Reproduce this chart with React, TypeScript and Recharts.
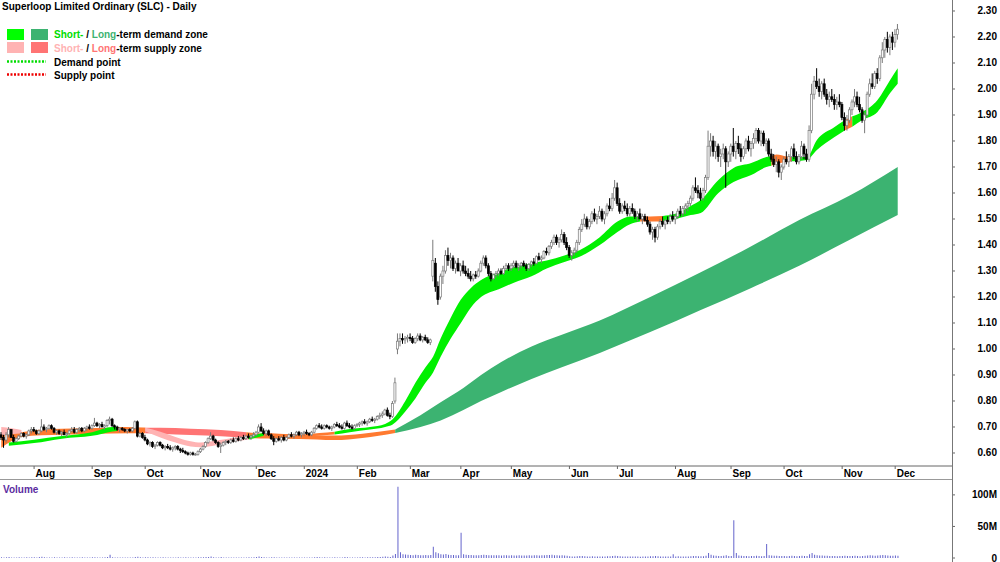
import React from 'react';
import { ComposedChart, BarChart, Bar, Area, XAxis, YAxis } from 'recharts';

type OHLC = [number, number, number, number];
type ZonePt = [number, number, number];

// ---- Daily candles [open, high, low, close], one array per month ----
const jul23: OHLC[] = [
  [.67,.68,.65,.66],[.66,.67,.62,.65],[.65,.68,.64,.67],[.67,.70,.66,.69],[.69,.69,.66,.66],
  [.66,.67,.64,.645],[.645,.66,.64,.655],[.655,.67,.65,.665],[.665,.68,.66,.675],[.675,.68,.66,.665],
  [.665,.675,.655,.67],[.67,.69,.665,.685],[.685,.70,.675,.69],
];
const aug23: OHLC[] = [
  [.69,.70,.68,.685],[.685,.69,.67,.675],[.675,.69,.67,.685],[.685,.73,.68,.70],[.70,.71,.685,.69],
  [.69,.70,.68,.695],[.695,.71,.69,.705],[.705,.71,.69,.695],[.695,.70,.675,.68],[.68,.69,.67,.685],
  [.685,.69,.67,.675],[.675,.685,.665,.68],[.68,.69,.67,.67],[.67,.68,.66,.675],[.675,.69,.67,.685],
  [.685,.70,.68,.69],[.69,.70,.675,.68],[.68,.695,.675,.69],[.69,.70,.68,.695],[.695,.70,.68,.685],
  [.685,.70,.68,.695],[.695,.705,.685,.70],[.70,.71,.69,.695],
];
const sep23: OHLC[] = [
  [.695,.71,.69,.705],[.705,.735,.70,.715],[.715,.72,.70,.705],[.705,.715,.695,.71],[.71,.72,.70,.70],
  [.70,.71,.69,.705],[.705,.73,.70,.725],[.725,.74,.71,.73],[.73,.735,.70,.705],[.705,.71,.69,.70],
  [.70,.705,.685,.69],[.69,.70,.68,.695],[.695,.70,.685,.69],[.69,.695,.68,.685],[.685,.69,.675,.69],
  [.69,.695,.68,.685],[.685,.70,.68,.695],[.695,.725,.69,.72],[.72,.725,.66,.665],[.665,.68,.66,.675],
  [.675,.68,.655,.66],
];
const oct23: OHLC[] = [
  [.66,.67,.645,.65],[.65,.655,.63,.635],[.635,.645,.625,.64],[.64,.645,.62,.625],[.625,.635,.615,.63],
  [.63,.645,.625,.64],[.64,.645,.625,.63],[.63,.635,.615,.62],[.62,.63,.61,.625],[.625,.635,.615,.62],
  [.62,.63,.61,.615],[.615,.625,.605,.62],[.62,.63,.61,.625],[.625,.63,.61,.615],[.615,.62,.60,.61],
  [.61,.62,.60,.605],[.605,.61,.595,.60],[.60,.605,.59,.595],[.595,.605,.59,.60],[.60,.605,.59,.595],
  [.595,.60,.59,.595],[.595,.61,.59,.605],
];
const nov23: OHLC[] = [
  [.605,.62,.60,.615],[.615,.63,.61,.625],[.625,.645,.62,.64],[.64,.66,.635,.655],[.655,.68,.65,.665],
  [.665,.67,.645,.65],[.65,.655,.635,.64],[.64,.645,.62,.625],[.625,.64,.60,.63],[.63,.645,.625,.64],
  [.64,.65,.63,.645],[.645,.65,.635,.64],[.64,.655,.635,.65],[.65,.66,.64,.645],[.645,.66,.64,.655],
  [.655,.665,.645,.65],[.65,.665,.645,.66],[.66,.67,.65,.655],[.655,.67,.65,.665],[.665,.675,.655,.66],
  [.66,.67,.65,.665],[.665,.68,.66,.67],
];
const dec23: OHLC[] = [
  [.67,.685,.665,.68],[.68,.71,.675,.70],[.70,.715,.68,.685],[.685,.695,.67,.675],[.675,.69,.665,.685],
  [.685,.69,.665,.67],[.67,.675,.65,.655],[.655,.665,.63,.645],[.645,.66,.64,.655],[.655,.665,.645,.65],
  [.65,.665,.64,.66],[.66,.67,.645,.65],[.65,.665,.645,.66],[.66,.675,.655,.67],[.67,.68,.66,.665],
  [.665,.675,.655,.67],[.67,.685,.665,.68],[.68,.685,.665,.67],[.67,.68,.66,.675],
];
const jan24: OHLC[] = [
  [.675,.685,.665,.68],[.68,.69,.67,.675],[.675,.68,.665,.67],[.67,.685,.665,.68],[.68,.70,.675,.695],
  [.695,.71,.69,.705],[.705,.715,.695,.70],[.70,.71,.69,.695],[.695,.71,.69,.705],[.705,.71,.695,.70],
  [.70,.705,.69,.695],[.695,.705,.685,.70],[.70,.715,.695,.71],[.71,.72,.70,.705],[.705,.715,.695,.70],
  [.70,.71,.69,.695],[.695,.72,.69,.715],[.715,.725,.70,.705],[.705,.715,.695,.70],[.70,.71,.69,.695],
  [.695,.71,.69,.705],
];
const feb24: OHLC[] = [
  [.705,.715,.70,.71],[.71,.72,.70,.715],[.715,.725,.705,.72],[.72,.73,.71,.715],[.715,.725,.705,.72],
  [.72,.735,.715,.73],[.73,.74,.72,.725],[.725,.735,.715,.73],[.73,.745,.725,.74],[.74,.755,.73,.745],
  [.745,.76,.735,.75],[.75,.77,.745,.765],[.765,.775,.74,.745],[.745,.755,.73,.74],[.74,.80,.735,.79],
  [.80,.89,.79,.87],[1.00,1.06,.98,1.03],[1.03,1.06,1.01,1.04],[1.04,1.06,1.02,1.035],[1.035,1.05,1.02,1.04],
  [1.04,1.055,1.025,1.045],
];
const mar24: OHLC[] = [
  [1.045,1.06,1.03,1.04],[1.04,1.05,1.02,1.025],[1.025,1.045,1.02,1.04],[1.04,1.06,1.03,1.05],[1.05,1.06,1.03,1.035],
  [1.035,1.05,1.025,1.045],[1.045,1.055,1.03,1.035],[1.035,1.045,1.02,1.025],[1.025,1.04,1.015,1.035],[1.28,1.42,1.26,1.34],
  [1.33,1.35,1.22,1.24],[1.24,1.26,1.17,1.19],[1.20,1.29,1.19,1.28],[1.28,1.32,1.25,1.30],[1.30,1.38,1.29,1.36],
  [1.36,1.39,1.32,1.34],[1.34,1.37,1.31,1.35],[1.35,1.36,1.30,1.31],[1.31,1.34,1.29,1.33],[1.33,1.35,1.30,1.30],
];
const apr24: OHLC[] = [
  [1.30,1.33,1.28,1.32],[1.32,1.34,1.29,1.30],[1.30,1.32,1.28,1.29],[1.29,1.31,1.27,1.28],[1.28,1.30,1.26,1.27],
  [1.27,1.29,1.26,1.285],[1.285,1.30,1.27,1.28],[1.28,1.31,1.275,1.30],[1.30,1.34,1.295,1.33],[1.33,1.36,1.32,1.35],
  [1.35,1.36,1.31,1.32],[1.32,1.33,1.28,1.29],[1.29,1.30,1.26,1.27],[1.27,1.29,1.265,1.285],[1.285,1.30,1.275,1.29],
  [1.29,1.31,1.28,1.30],[1.30,1.31,1.285,1.29],[1.29,1.32,1.285,1.31],[1.31,1.33,1.30,1.32],[1.32,1.33,1.30,1.31],
];
const may24: OHLC[] = [
  [1.31,1.33,1.30,1.32],[1.32,1.34,1.31,1.33],[1.33,1.34,1.31,1.315],[1.315,1.33,1.30,1.32],[1.32,1.335,1.31,1.33],
  [1.33,1.34,1.315,1.32],[1.32,1.33,1.30,1.31],[1.31,1.33,1.30,1.325],[1.325,1.34,1.315,1.335],[1.335,1.35,1.32,1.33],
  [1.33,1.36,1.325,1.355],[1.355,1.37,1.34,1.345],[1.345,1.36,1.33,1.35],[1.35,1.38,1.345,1.375],[1.375,1.39,1.36,1.37],
  [1.37,1.40,1.36,1.395],[1.395,1.42,1.385,1.41],[1.41,1.44,1.40,1.43],[1.43,1.44,1.40,1.41],[1.41,1.43,1.39,1.42],
  [1.42,1.46,1.41,1.44],[1.44,1.45,1.40,1.41],[1.41,1.43,1.38,1.39],
];
const jun24: OHLC[] = [
  [1.39,1.40,1.35,1.36],[1.36,1.38,1.34,1.37],[1.37,1.39,1.36,1.38],[1.38,1.42,1.37,1.41],[1.41,1.47,1.40,1.46],
  [1.46,1.50,1.45,1.48],[1.48,1.52,1.47,1.50],[1.50,1.51,1.46,1.47],[1.47,1.50,1.46,1.49],[1.49,1.53,1.48,1.52],
  [1.52,1.54,1.49,1.50],[1.50,1.52,1.48,1.51],[1.51,1.55,1.50,1.53],[1.53,1.54,1.49,1.50],[1.50,1.53,1.48,1.52],
  [1.52,1.56,1.51,1.55],[1.55,1.58,1.53,1.54],[1.54,1.60,1.53,1.58],[1.58,1.65,1.57,1.62],
];
const jul24: OHLC[] = [
  [1.62,1.64,1.55,1.56],[1.56,1.58,1.52,1.53],[1.53,1.56,1.52,1.55],[1.55,1.57,1.53,1.54],[1.54,1.56,1.51,1.52],
  [1.52,1.55,1.51,1.54],[1.54,1.56,1.52,1.53],[1.53,1.54,1.50,1.51],[1.51,1.53,1.49,1.52],[1.52,1.54,1.50,1.50],
  [1.50,1.52,1.48,1.51],[1.51,1.52,1.49,1.495],[1.495,1.51,1.47,1.48],[1.48,1.49,1.44,1.45],[1.45,1.47,1.42,1.46],
  [1.46,1.47,1.41,1.43],[1.43,1.48,1.42,1.47],[1.47,1.50,1.46,1.49],[1.49,1.51,1.47,1.48],[1.48,1.50,1.46,1.495],
  [1.495,1.51,1.48,1.49],[1.49,1.52,1.48,1.51],[1.51,1.53,1.49,1.50],
];
const aug24: OHLC[] = [
  [1.50,1.52,1.48,1.51],[1.51,1.54,1.50,1.53],[1.53,1.55,1.51,1.52],[1.52,1.55,1.51,1.54],[1.54,1.56,1.52,1.55],
  [1.55,1.57,1.53,1.56],[1.56,1.59,1.55,1.58],[1.58,1.63,1.57,1.62],[1.62,1.66,1.60,1.61],[1.61,1.63,1.58,1.60],
  [1.60,1.62,1.57,1.58],[1.58,1.62,1.57,1.61],[1.61,1.67,1.60,1.66],[1.66,1.84,1.65,1.78],[1.78,1.83,1.74,1.80],
  [1.80,1.82,1.74,1.76],[1.76,1.80,1.73,1.78],[1.78,1.79,1.72,1.74],[1.74,1.77,1.70,1.75],[1.75,1.79,1.73,1.77],
  [1.77,1.78,1.62,1.72],[1.72,1.76,1.70,1.75],
];
const sep24: OHLC[] = [
  [1.75,1.79,1.72,1.78],[1.78,1.85,1.74,1.76],[1.76,1.80,1.73,1.79],[1.79,1.82,1.75,1.77],[1.77,1.79,1.72,1.74],
  [1.74,1.78,1.73,1.77],[1.77,1.81,1.75,1.80],[1.80,1.82,1.76,1.77],[1.77,1.80,1.74,1.79],[1.79,1.83,1.77,1.81],
  [1.81,1.85,1.79,1.84],[1.84,1.85,1.79,1.80],[1.80,1.84,1.78,1.83],[1.83,1.84,1.78,1.79],[1.79,1.81,1.76,1.80],
  [1.80,1.81,1.74,1.75],[1.75,1.77,1.72,1.73],[1.73,1.75,1.70,1.71],[1.71,1.74,1.68,1.72],[1.72,1.73,1.66,1.68],
  [1.68,1.71,1.65,1.70],
];
const oct24: OHLC[] = [
  [1.70,1.74,1.69,1.73],[1.73,1.76,1.71,1.72],[1.72,1.75,1.70,1.74],[1.74,1.78,1.72,1.77],[1.77,1.79,1.73,1.74],
  [1.74,1.76,1.71,1.72],[1.72,1.75,1.71,1.74],[1.74,1.80,1.73,1.78],[1.78,1.79,1.73,1.75],[1.75,1.77,1.72,1.73],
  [1.73,1.86,1.72,1.84],[1.84,2.02,1.83,1.98],[1.98,2.05,1.96,2.03],[2.03,2.08,2.00,2.01],[2.01,2.04,1.97,1.99],
  [1.99,2.03,1.96,2.02],[2.02,2.04,1.97,1.98],[1.98,2.00,1.94,1.96],[1.96,1.99,1.93,1.97],[1.97,2.00,1.95,1.96],
  [1.96,1.98,1.92,1.94],[1.94,1.97,1.92,1.95],[1.95,1.98,1.93,1.94],
];
const nov24: OHLC[] = [
  [1.94,1.95,1.88,1.89],[1.89,1.91,1.84,1.86],[1.86,1.90,1.84,1.88],[1.88,1.93,1.87,1.92],[1.92,1.96,1.90,1.95],
  [1.95,2.00,1.93,1.97],[1.97,1.99,1.93,1.94],[1.94,1.97,1.91,1.92],[1.92,1.93,1.87,1.88],[1.88,1.91,1.83,1.90],
  [1.90,1.99,1.89,1.98],[1.98,2.04,1.97,2.02],[2.02,2.06,2.00,2.01],[2.01,2.07,2.00,2.06],[2.06,2.08,2.02,2.04],
  [2.04,2.13,2.03,2.12],[2.12,2.18,2.10,2.15],[2.15,2.20,2.12,2.19],[2.19,2.22,2.14,2.16],[2.16,2.21,2.13,2.20],
  [2.20,2.22,2.15,2.18],
];
const dec24: OHLC[] = [[2.18,2.23,2.16,2.21],[2.21,2.25,2.19,2.23]];

const candleMonths = [jul23, aug23, sep23, oct23, nov23, dec23, jan24, feb24, mar24, apr24, may24, jun24, jul24, aug24, sep24, oct24, nov24, dec24];

// ---- Daily volume (millions) ----
const volumesM: number[] = [
  1.2,0.8,1.0,1.5,0.9,0.7,0.8,1.1,0.6,0.9,1.3,0.8,1.0,
  1.1,0.9,1.4,2.0,1.2,0.8,0.7,0.9,1.0,0.6,0.8,0.9,1.1,0.7,0.8,1.0,0.6,0.7,0.9,1.2,0.8,0.7,0.9,
  1.0,1.3,0.9,0.8,0.7,1.1,1.4,5.0,1.2,0.9,0.8,0.7,0.6,0.8,0.9,0.7,0.8,1.5,2.1,1.0,0.9,
  1.2,1.0,0.9,1.1,0.8,0.7,0.9,1.3,0.8,0.7,0.6,0.9,0.8,1.0,0.7,0.8,1.1,0.9,0.7,0.8,0.9,1.2,
  1.0,1.3,1.6,1.4,2.2,1.1,0.9,0.8,1.5,0.9,0.7,0.8,0.9,0.7,0.8,0.6,0.9,0.7,0.8,1.0,0.9,1.1,
  1.4,2.5,1.6,1.0,0.9,0.8,1.2,1.1,0.7,0.8,0.6,0.9,0.7,0.8,0.6,0.7,0.9,0.8,0.7,
  0.8,0.9,0.7,0.8,1.3,1.5,1.0,0.9,1.1,0.8,0.7,0.8,1.2,0.9,0.8,0.7,1.6,1.1,0.9,0.8,0.9,
  0.9,1.0,1.2,0.9,1.1,1.3,1.0,1.2,1.4,1.6,1.8,2.2,2.0,1.5,4.0,6.5,113,9.0,6.0,5.5,5.0,
  4.8,4.5,5.0,4.6,4.2,4.4,4.8,4.3,4.9,18,9.0,7.5,6.0,5.5,6.5,5.0,4.8,4.6,4.5,4.4,
  40,6.0,5.0,4.6,4.8,4.5,4.3,4.4,4.6,5.0,4.7,4.5,4.3,4.2,4.4,4.3,4.1,4.5,4.2,4.0,
  4.2,4.1,4.0,4.3,4.1,3.9,4.0,4.2,4.1,4.3,4.5,4.0,4.2,4.4,4.6,4.8,5.0,4.5,4.2,4.0,4.4,3.8,3.5,
  2.6,2.4,2.5,2.8,3.0,3.2,2.8,2.5,2.4,2.6,2.5,2.3,2.4,2.2,2.5,2.6,2.8,3.0,3.4,
  3.2,2.8,2.5,2.4,2.3,2.5,2.4,2.2,2.3,2.1,2.2,2.4,2.3,2.6,2.8,3.0,2.7,2.5,2.4,2.3,2.2,2.4,6.0,
  2.5,2.6,2.4,2.5,2.3,2.4,2.6,3.0,3.2,2.8,2.6,2.7,3.4,8.0,5.0,4.0,3.5,3.2,3.0,3.4,4.5,3.0,
  3.0,60,8.0,4.0,3.5,3.2,3.0,2.8,3.0,3.2,3.4,3.0,2.8,3.2,22,4.5,3.8,3.5,3.4,3.2,3.0,
  3.0,2.8,3.2,3.4,3.0,2.8,3.0,3.5,3.2,3.0,6.0,8.0,5.0,4.5,4.0,3.8,3.5,3.4,3.2,3.0,3.1,2.9,3.0,
  3.2,3.4,3.0,3.1,3.3,3.5,3.0,2.9,3.2,3.6,4.0,4.2,3.8,3.6,3.9,4.5,4.8,4.2,3.8,3.6,3.5,
  3.8,3.4,
];

// ---- Zones: [trading-day index, lower, upper] ----
const ltOrangeA: ZonePt[] = [[0,.62,.668],[4,.645,.675],[8,.662,.68],[16,.668,.69],[32,.672,.695],[44,.675,.697],[57,.676,.697]];
const ltSalmon: ZonePt[] = [[57,.676,.697],[63,.674,.697],[75,.669,.693],[87,.664,.688],[97,.658,.68]];
const ltOrangeB: ZonePt[] = [[97,.658,.68],[105,.656,.674],[118,.654,.671],[132,.65,.667],[143,.658,.674],[156,.677,.69]];
const ltGreen: ZonePt[] = [[156,.677,.69],[166,.70,.745],[174,.725,.795],[183,.765,.85],[190,.80,.90],[198,.835,.95],[210,.885,1.01],[222,.93,1.055],[237,.985,1.11],[257,1.065,1.20],[277,1.15,1.295],[297,1.235,1.395],[316,1.32,1.496],[336,1.42,1.59],[355,1.515,1.70]];
const stPinkA: ZonePt[] = [[0,.668,.70],[4,.672,.695],[8,.675,.688]];
const stGreenA: ZonePt[] = [[3,.628,.64],[13,.638,.651],[24,.655,.665],[36,.666,.68],[44,.683,.70],[46,.686,.70]];
const stOrangeA: ZonePt[] = [[46,.686,.70],[52,.688,.699],[57,.684,.697]];
const stPinkB: ZonePt[] = [[57,.684,.697],[63,.66,.682],[69,.64,.662],[75,.625,.645],[79,.622,.64],[85,.63,.648],[91,.642,.657],[98,.652,.665]];
const stGreenB: ZonePt[] = [[98,.652,.665],[104,.666,.678]];
const stOrangeB: ZonePt[] = [[104,.666,.678],[110,.664,.674],[118,.663,.672],[126,.667,.677],[132,.671,.682]];
const stGreenC: ZonePt[] = [[132,.671,.682],[138,.68,.692],[146,.69,.70],[152,.70,.712],[155,.71,.73],[160,.76,.80],[164,.81,.87],[168,.87,.93],[171,.91,.97],[174,.97,1.04],[178,1.04,1.12],[182,1.10,1.19],[186,1.16,1.235],[190,1.20,1.265],[197,1.23,1.295],[203,1.255,1.315],[210,1.28,1.33],[216,1.31,1.34],[223,1.335,1.36],[229,1.355,1.38],[237,1.40,1.43],[244,1.45,1.49],[249,1.48,1.51],[253,1.49,1.51]];
const stOrangeC: ZonePt[] = [[253,1.49,1.51],[257,1.49,1.51],[262,1.49,1.512]];
const stGreenD: ZonePt[] = [[262,1.49,1.512],[267,1.50,1.52],[273,1.515,1.55],[277,1.523,1.573],[284,1.60,1.65],[290,1.642,1.696],[297,1.669,1.715],[303,1.70,1.738],[305,1.705,1.742]];
const stOrangeD: ZonePt[] = [[305,1.705,1.742],[307,1.712,1.748],[311,1.719,1.74],[313,1.722,1.738]];
const stGreenE: ZonePt[] = [[313,1.722,1.738],[319,1.727,1.738],[323,1.765,1.804],[330,1.815,1.854],[334,1.84,1.88]];
const stOrangeE: ZonePt[] = [[334,1.84,1.88],[337,1.855,1.895]];
const stGreenF: ZonePt[] = [[337,1.855,1.895],[341,1.881,1.912],[347,1.912,1.958],[352,1.985,2.035],[355,2.02,2.08]];

const monthTicks = [
  { i: 13, label: 'Aug' }, { i: 36, label: 'Sep' }, { i: 57, label: 'Oct' }, { i: 79, label: 'Nov' },
  { i: 101, label: 'Dec' }, { i: 120, label: '2024' }, { i: 141, label: 'Feb' }, { i: 162, label: 'Mar' },
  { i: 182, label: 'Apr' }, { i: 202, label: 'May' }, { i: 225, label: 'Jun' }, { i: 244, label: 'Jul' },
  { i: 267, label: 'Aug' }, { i: 289, label: 'Sep' }, { i: 310, label: 'Oct' }, { i: 333, label: 'Nov' },
  { i: 354, label: 'Dec' },
];
const priceTicks = [0.6,0.7,0.8,0.9,1.0,1.1,1.2,1.3,1.4,1.5,1.6,1.7,1.8,1.9,2.0,2.1,2.2,2.3];
const volumeTicks = [0, 50, 100];
const SLOTS = 377;

// ---- styles ----
const FONT = '"Liberation Sans", Arial, sans-serif';
const C_ST_DEMAND = '#00f000';
const C_LT_DEMAND = '#3cb371';
const C_ST_SUPPLY = '#ffb3b3';
const C_LT_SUPPLY = '#ff7474';
const C_ORANGE = '#ff7a30';

const zoneLayers = [
  { key: 'ltOrangeA', pts: ltOrangeA, fill: C_ORANGE },
  { key: 'ltSalmon', pts: ltSalmon, fill: C_LT_SUPPLY },
  { key: 'ltOrangeB', pts: ltOrangeB, fill: C_ORANGE },
  { key: 'ltGreen', pts: ltGreen, fill: C_LT_DEMAND },
  { key: 'stPinkA', pts: stPinkA, fill: C_ST_SUPPLY },
  { key: 'stGreenA', pts: stGreenA, fill: C_ST_DEMAND },
  { key: 'stOrangeA', pts: stOrangeA, fill: C_ORANGE },
  { key: 'stPinkB', pts: stPinkB, fill: C_ST_SUPPLY },
  { key: 'stGreenB', pts: stGreenB, fill: C_ST_DEMAND },
  { key: 'stOrangeB', pts: stOrangeB, fill: C_ORANGE },
  { key: 'stGreenC', pts: stGreenC, fill: C_ST_DEMAND },
  { key: 'stOrangeC', pts: stOrangeC, fill: C_ORANGE },
  { key: 'stGreenD', pts: stGreenD, fill: C_ST_DEMAND },
  { key: 'stOrangeD', pts: stOrangeD, fill: C_ORANGE },
  { key: 'stGreenE', pts: stGreenE, fill: C_ST_DEMAND },
  { key: 'stOrangeE', pts: stOrangeE, fill: C_ORANGE },
  { key: 'stGreenF', pts: stGreenF, fill: C_ST_DEMAND },
];

const candles = candleMonths.flat();
const rows: any[] = Array.from({ length: SLOTS }, (_, i) => {
  const r: any = { i };
  const c = candles[i];
  if (c) {
    r.o = c[0]; r.h = c[1]; r.l = c[2]; r.c = c[3];
    r.v = volumesM[i];
  }
  return r;
});
zoneLayers.forEach((z) => {
  z.pts.forEach(([i, lo, hi]) => {
    rows[i][z.key] = [lo, hi];
  });
});

const monthLabel = new Map(monthTicks.map((m) => [m.i, m.label]));

function MonthTick(props: any) {
  const { x, y, payload } = props;
  const label = monthLabel.get(payload && payload.value);
  if (!label) return <g />;
  return (
    <g>
      <line x1={x} x2={x} y1={y} y2={y + 3} stroke="#666" strokeWidth={1} />
      <text x={x + 1.5} y={y + 11} fontFamily={FONT} fontSize={10} fontWeight="bold" fill="#000">{label}</text>
    </g>
  );
}

function PriceTick(props: any) {
  const { y, payload } = props;
  return (
    <text x={997} y={y} dy="0.35em" textAnchor="end" fontFamily={FONT} fontSize={10} fontWeight="bold" fill="#000">
      {Number(payload.value).toFixed(2)}
    </text>
  );
}

function VolumeTick(props: any) {
  const { y, payload } = props;
  const v = Number(payload.value);
  return (
    <text x={997} y={y} dy="0.35em" textAnchor="end" fontFamily={FONT} fontSize={10} fontWeight="bold" fill="#000">
      {v === 0 ? '0' : `${v}M`}
    </text>
  );
}

function Candle(props: any) {
  const { x, y, width, height, payload } = props;
  if (!payload || payload.h == null || !isFinite(y)) return <g />;
  const { o, h, l, c } = payload;
  const cx = x + width / 2;
  const span = h - l;
  const toY = (v: number) => (span > 0 ? y + ((h - v) / span) * height : y);
  const up = c >= o;
  const top = toY(Math.max(o, c));
  const bot = toY(Math.min(o, c));
  const bh = Math.max(bot - top, 0.8);
  const col = up ? '#7a7a7a' : '#000';
  return (
    <g>
      <line x1={cx} x2={cx} y1={y} y2={y + height} stroke={col} strokeWidth={1} />
      <rect x={cx - 1} y={top} width={2} height={bh} fill={up ? '#fff' : '#000'} stroke={col} strokeWidth={0.7} />
    </g>
  );
}

const candleRange = (d: any) => (d.h != null ? [d.l, d.h] : null);

export default function App() {
  return (
    <div style={{ position: 'absolute', left: 0, top: 0, width: 1000, height: 562, background: '#fff', overflow: 'hidden' }}>
      <div style={{ position: 'absolute', left: 0, top: 0 }}>
        <ComposedChart width={1000} height={480} data={rows} margin={{ top: 0, right: 0, bottom: 0, left: 0 }}>
          <XAxis
            dataKey="i"
            type="category"
            height={14}
            interval={0}
            ticks={monthTicks.map((m) => m.i)}
            tick={MonthTick}
            tickLine={false}
            tickSize={0}
            tickMargin={0}
            axisLine={{ stroke: '#666' }}
          />
          <YAxis
            orientation="right"
            width={48}
            domain={[0.55, 2.3423]}
            allowDataOverflow
            interval={0}
            ticks={priceTicks}
            tick={PriceTick}
            tickSize={3}
            tickLine={{ stroke: '#666' }}
            axisLine={false}
          />
          {zoneLayers.map((z) => (
            <Area
              key={z.key}
              dataKey={z.key}
              type="monotone"
              stroke="none"
              fill={z.fill}
              fillOpacity={1}
              connectNulls
              dot={false}
              activeDot={false}
              isAnimationActive={false}
            />
          ))}
          <Bar dataKey={candleRange} shape={Candle} barSize={2} isAnimationActive={false} />
        </ComposedChart>
      </div>
      <div style={{ position: 'absolute', left: 0, top: 480 }}>
        <BarChart width={1000} height={82} data={rows} margin={{ top: 1, right: 0, bottom: 4, left: 0 }}>
          <XAxis dataKey="i" type="category" hide />
          <YAxis
            orientation="right"
            width={48}
            domain={[0, 122]}
            allowDataOverflow
            interval={0}
            ticks={volumeTicks}
            tick={VolumeTick}
            tickSize={3}
            tickLine={{ stroke: '#666' }}
            axisLine={false}
          />
          <Bar dataKey="v" fill="#6464cc" barSize={1} isAnimationActive={false} />
        </BarChart>
      </div>
      <svg width={1000} height={562} style={{ position: 'absolute', left: 0, top: 0, pointerEvents: 'none' }}>
        <line x1={952.5} x2={952.5} y1={0} y2={562} stroke="#777" strokeWidth={1} />
        <line x1={0} x2={952} y1={479.5} y2={479.5} stroke="#999" strokeWidth={1} />
        <text x={2} y={10} fontFamily={FONT} fontSize={10} fontWeight="bold" fill="#000">
          Superloop Limited Ordinary (SLC) - Daily
        </text>
        <rect x={7} y={29} width={17} height={11} fill="#00ff00" />
        <rect x={31} y={29} width={17} height={11} fill={C_LT_DEMAND} />
        <text x={54} y={38} fontFamily={FONT} fontSize={10} fontWeight="bold" fill="#000">
          <tspan fill="#00dd00">Short-</tspan>
          <tspan> / </tspan>
          <tspan fill={C_LT_DEMAND}>Long</tspan>
          <tspan>-term demand zone</tspan>
        </text>
        <rect x={7} y={42} width={17} height={11} fill={C_ST_SUPPLY} />
        <rect x={31} y={42} width={17} height={11} fill={C_LT_SUPPLY} />
        <text x={54} y={52} fontFamily={FONT} fontSize={10} fontWeight="bold" fill="#000">
          <tspan fill={C_ST_SUPPLY}>Short-</tspan>
          <tspan> / </tspan>
          <tspan fill={C_LT_SUPPLY}>Long</tspan>
          <tspan>-term supply zone</tspan>
        </text>
        <line x1={7} x2={46} y1={61.5} y2={61.5} stroke="#00dd00" strokeWidth={2.5} strokeDasharray="2 1.5" />
        <text x={54} y={65.5} fontFamily={FONT} fontSize={10} fontWeight="bold" fill="#000">Demand point</text>
        <line x1={7} x2={46} y1={74.5} y2={74.5} stroke="#ee0000" strokeWidth={2.5} strokeDasharray="2 1.5" />
        <text x={54} y={78.5} fontFamily={FONT} fontSize={10} fontWeight="bold" fill="#000">Supply point</text>
        <text x={3} y={493} fontFamily={FONT} fontSize={10} fontWeight="bold" fill="#5b2c9f">Volume</text>
      </svg>
    </div>
  );
}
